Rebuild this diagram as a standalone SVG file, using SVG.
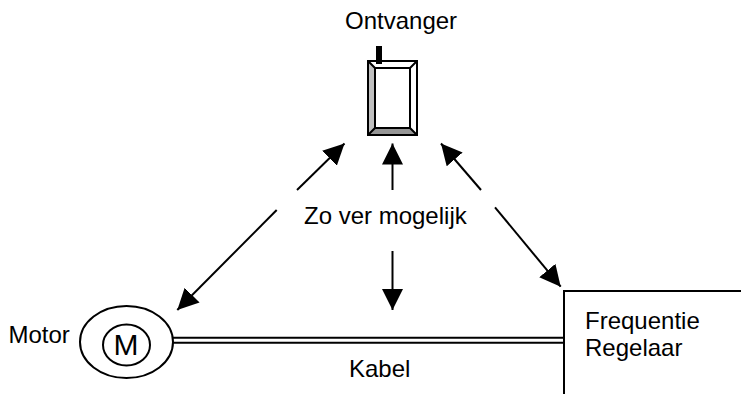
<svg xmlns="http://www.w3.org/2000/svg" width="741" height="394" viewBox="0 0 741 394">
<style>
text{font-family:"Liberation Sans",Arial,sans-serif;font-size:24px;fill:#000}
.o{fill:none;stroke:#000;stroke-width:2}
.c{fill:none;stroke:#000;stroke-width:2}
.a{fill:none;stroke:#000;stroke-width:2}
</style>
<defs>
<marker id="ah" markerUnits="userSpaceOnUse" markerWidth="24" markerHeight="22" refX="21" refY="10.500" orient="auto">
<path d="M0 0L21 10.500L0 21Z" fill="#000"/>
</marker>
</defs>
<rect width="741" height="394" fill="#fff"/>
<g id="connectors">
<path class="a" d="M276.700 210L177.300 310" marker-end="url(#ah)"/>
<path class="a" d="M297 190L344.500 143.500" marker-end="url(#ah)"/>
<path class="a" d="M392.500 190V143.500" marker-end="url(#ah)"/>
<path class="a" d="M392.500 251V310" marker-end="url(#ah)"/>
<path class="a" d="M481 190L441 143.500" marker-end="url(#ah)"/>
<path class="a" d="M495 207.300L560.700 286.700" marker-end="url(#ah)"/>
<path class="c" d="M173 337.700H564M173 342.700H564"/>
</g>
<g id="ontvanger">
<rect x="368" y="61" width="49" height="74" fill="#fff" stroke="#000" stroke-width="2"/>
<path d="M369 62L375 68V128L369 134Z" fill="#c0c0c0"/>
<path d="M369 134L375 128H410L416 134Z" fill="#969696"/>
<rect x="375" y="68" width="35" height="60" fill="#fff" stroke="#000" stroke-width="2"/>
<path class="c" d="M368 61L375 68M417 61L410 68M368 135L375 128M417 135L410 128"/>
<rect x="376" y="46" width="6" height="18" fill="#000"/>
<text x="345" y="29">Ontvanger</text>
</g>
<g id="motor">
<ellipse class="o" cx="126.500" cy="342" rx="46.500" ry="36"/>
<ellipse class="o" cx="126.500" cy="345" rx="23.500" ry="20.500"/>
<text x="126" y="355" text-anchor="middle" style="font-size:30px">M</text>
<text x="8.500" y="343">Motor</text>
</g>
<g id="regelaar">
<path fill="#fff" stroke="#000" stroke-width="2" d="M741 291H564V394"/>
<text x="585" y="329">Frequentie</text>
<text x="585" y="356">Regelaar</text>
</g>
<text x="304" y="224">Zo ver mogelijk</text>
<text x="349" y="377">Kabel</text>
</svg>
